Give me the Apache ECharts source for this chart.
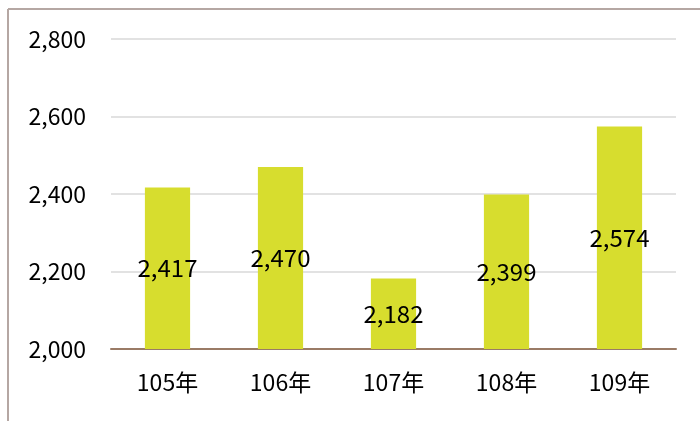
<!DOCTYPE html>
<html>
<head>
<meta charset="utf-8">
<script src="https://cdn.jsdelivr.net/npm/echarts@6/dist/echarts.min.js"></script>
<style>
    html, body { margin: 0; padding: 0; background: #fff; }
    #chart { width: 700px; height: 421px; }
</style>
</head>
<body>
<div id="chart"></div>
<script>
const categories = ['105年', '106年', '107年', '108年', '109年'];
const values = [2417, 2470, 2182, 2399, 2574];
const yMin = 2000, yMax = 2800, yStep = 200;

const fontFamily = '"Noto Sans CJK TC", "Noto Sans", sans-serif';
const chart = echarts.init(document.getElementById('chart'));

chart.setOption({
    animation: false,
    grid: { left: 111, right: 24, top: 39, bottom: 72 },
    graphic: [
        { type: 'line', shape: { x1: 8, y1: 9, x2: 8, y2: 421 }, style: { stroke: '#b5a7a3', lineWidth: 2 } },
        { type: 'line', shape: { x1: 8, y1: 9, x2: 700, y2: 9 }, style: { stroke: '#b5a7a3', lineWidth: 2 } }
    ],
    xAxis: {
        type: 'category',
        data: categories,
        axisLine: { lineStyle: { color: '#9a7b66', width: 2 } },
        axisTick: { show: false },
        axisLabel: { color: '#000', fontSize: 23, fontFamily: fontFamily, margin: 22 }
    },
    yAxis: {
        type: 'value',
        min: yMin,
        max: yMax,
        interval: yStep,
        axisLine: { show: false },
        axisTick: { show: false },
        splitLine: { lineStyle: { color: '#d9d9d9', width: 1.5 } },
        axisLabel: {
            color: '#000', fontSize: 23, fontFamily: fontFamily, margin: 25,
            formatter: v => v.toLocaleString('en-US')
        }
    },
    series: [{
        type: 'bar',
        data: values,
        barWidth: '40%',
        itemStyle: { color: '#d7dd2e' },
        label: {
            show: true,
            position: 'inside',
            color: '#000',
            fontSize: 24,
            fontFamily: fontFamily,
            formatter: p => p.value.toLocaleString('en-US')
        }
    }]
});
</script>
</body>
</html>
